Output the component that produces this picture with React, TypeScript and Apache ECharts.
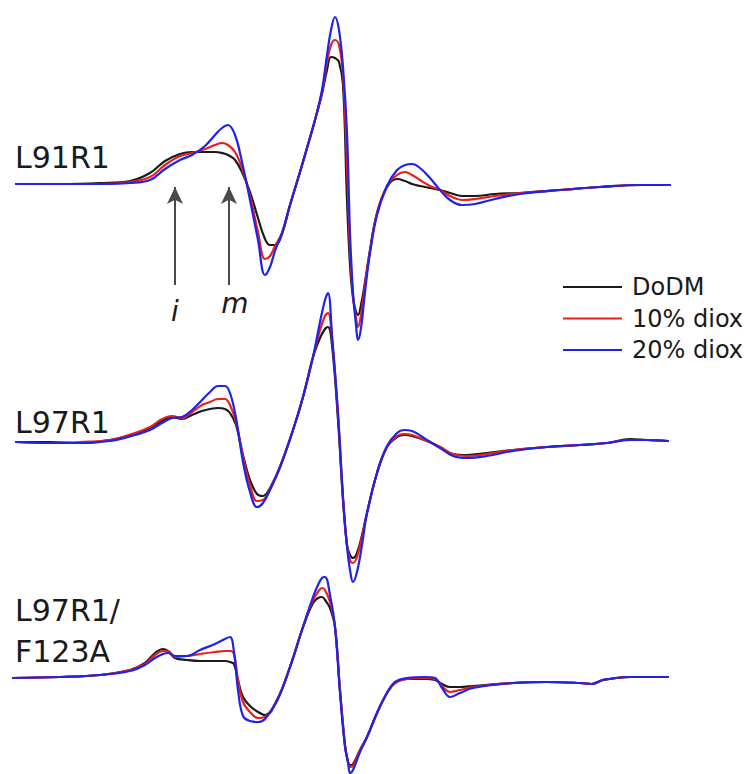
import React, { useEffect, useRef } from "react";
import * as echarts from "echarts";

// ---- Data (field in G, arbitrary start; amplitude in a.u.) ----
const CONDITIONS = ["DoDM", "10% diox", "20% diox"];
const COLORS = ["#1a1a1a", "#e8201a", "#1f22ea"];
const SAMPLES = ["L91R1", "L97R1", "L97R1/F123A"];

const fieldL91R1 = [1.2, 10, 18, 24, 28, 31, 34, 36.4, 39, 41, 42.4, 43.6, 45, 46.4, 48, 49.6, 51, 52, 53, 54.4, 56, 58, 59.4, 61, 62.4, 63.4, 64.2, 65, 65.8, 66.6, 67.4, 68, 68.6, 69.2, 69.6, 70.2, 71, 72, 73.4, 75.4, 77.4, 79, 80.4, 82, 84, 86, 88, 90.4, 93, 97, 102, 110, 118, 126, 132];
const L91R1_DoDM = [0, 0, 0.5, 1.5, 5.5, 11.5, 15, 16, 16, 16, 15.5, 14.5, 12, 6, -4, -17, -27.5, -30.5, -30.5, -25, -10.5, 6, 18, 32, 45, 57, 63.5, 63, 61, 49.5, -8, -40.5, -57, -64, -65.5, -60.5, -49, -33, -14.5, -1.5, 2.5, 1.5, 0, -1, -2, -3, -4.5, -6, -6, -5, -4.5, -3, -1.5, -0.5, -0.5];
const L91R1_diox10 = [0, 0, 0, 1, 3.5, 9.5, 14, 15.5, 17.5, 19.5, 20.5, 19.5, 16, 8, -6, -24, -37.5, -36, -31, -24.5, -10.5, 6, 18, 32, 46, 61, 69.5, 72, 69.5, 54.5, 9.5, -33, -55.5, -67, -71.5, -65.5, -50.5, -33.5, -14.5, -1, 4.5, 6, 4.5, 2, -1, -3, -6, -8, -7.5, -6, -4.5, -3, -1.5, -0.5, -0.5];
const L91R1_diox20 = [0, 0, 0, 0.5, 2, 7.5, 12, 14.5, 19, 24.5, 28, 29.5, 24.5, 11, -8, -28, -45.5, -41.5, -33.5, -24.5, -10.5, 6, 18, 32, 47, 64.5, 77, 83.5, 77, 58.5, 25.5, -24.5, -54.5, -70.5, -78, -72, -54, -34.5, -15.5, -1, 7, 9.5, 10, 8, 3, -3, -8, -10.5, -10, -7.5, -5, -3, -1.5, -0.5, -0.5];

const fieldL97R1 = [1.2, 8, 14, 20, 25, 28, 30.4, 32.4, 34.4, 36.4, 38.4, 40, 41.6, 43, 44, 45.2, 46.6, 48, 49.4, 50.6, 52, 54, 56.6, 58.6, 60.6, 62, 63, 63.6, 64.4, 65.6, 66.6, 67.4, 68, 68.6, 69.4, 70.4, 71.4, 73.4, 75.4, 77.4, 78.8, 80.4, 83.4, 86, 88.6, 91.4, 95.4, 100.6, 107.4, 114, 119.4, 124, 127.4, 131.6];
const L97R1_DoDM = [0, 0, -0.5, 1, 4, 7, 10.5, 12.5, 11.5, 13.5, 15.5, 16.5, 17, 16.5, 14.5, 8.5, -6.5, -19, -26, -27, -23, -12.5, 6, 22.5, 42.5, 52, 56.5, 57.5, 48.5, 11, -29, -51.5, -56.5, -58, -55.5, -46.5, -35.5, -15.5, -2.5, 2.5, 3.5, 3, 0.5, -2.5, -6, -6.5, -5.5, -4, -2.5, -1.5, -0.5, 1.5, 1, 0.5];
const L97R1_diox10 = [0, -0.5, 0, 1, 4.5, 7.5, 11.5, 13, 12, 15, 18.5, 20, 21.5, 21.5, 18.5, 10, -7.5, -21.5, -29.5, -29, -23.5, -12.5, 6, 22.5, 42.5, 56, 63, 64.5, 52, 13.5, -28, -51.5, -59, -60.5, -57.5, -47.5, -35.5, -15.5, -2.5, 3, 4, 3.5, 0.5, -2.5, -6, -7, -6, -4, -2.5, -1.5, -0.5, 1, 1, 0.5];
const L97R1_diox20 = [0, -0.5, -0.5, 0.5, 3.5, 6, 9.5, 12, 12.5, 16, 21, 25, 28, 28, 24.5, 12, -10, -25, -32.5, -30.5, -24, -12.5, 6, 22.5, 42.5, 60, 71, 74.5, 53.5, 14.5, -27.5, -52.5, -64, -70, -65, -51.5, -35.5, -15.5, -2, 4.5, 6, 5.5, 1, -3, -7, -8, -7, -4.5, -2.5, -1.5, -0.5, 1, 1, 0.5];

const fieldF123A = [0.6, 10, 18, 24, 27, 29, 30.6, 31.6, 33, 35.4, 38, 41, 43, 44, 44.8, 45.6, 46.6, 48, 49.6, 51, 53.4, 56, 58.6, 60.6, 61.6, 62.4, 63, 64, 65, 66, 67, 67.6, 68, 68.6, 70, 71.4, 73.4, 75.4, 77, 79.4, 83, 85, 86.4, 88, 90, 92.6, 100.6, 107.4, 114, 116.4, 118.6, 124, 131.6];
const F123A_DoDM = [0, 0.5, 1.5, 4, 7.5, 12.5, 14.5, 13.5, 10, 9, 8.5, 8.5, 8.5, 8, 7, -1, -9.5, -14, -17, -18.5, -11, 5.5, 25.5, 37.5, 40, 40.5, 39, 35, 25.5, -6, -33.5, -42, -43.5, -43, -36, -29.5, -17.5, -7.5, -2.5, -0.5, -0.5, -1, -3, -4.5, -4.5, -4, -2.5, -2, -2.5, -3, -1, 0.5, 0.5];
const F123A_diox10 = [0, 0.5, 1.5, 4, 7, 11.5, 13.5, 13.5, 10.5, 11, 12, 13, 13.5, 13.5, 12, -1, -12, -17, -20, -19.5, -11, 5.5, 25.5, 39, 43, 45, 44, 38, 25.5, -6, -33.5, -42, -44.5, -44, -36, -29.5, -17.5, -7.5, -2.5, -0.5, 0, -0.5, -4, -7, -6, -4.5, -2.5, -2, -2.5, -3, -1, 0.5, 0.5];
const F123A_diox20 = [0, 0.5, 1.5, 3.5, 6.5, 10, 12, 12.5, 11, 11, 14, 17, 19.5, 20.5, 13, -6, -19, -21.5, -22, -20.5, -11.5, 5.5, 25.5, 40.5, 46.5, 50, 50.5, 41.5, 25.5, -7.5, -34.5, -42, -47.5, -46, -37, -29.5, -17.5, -7.5, -2, 0, 0.5, 0, -5, -9.5, -7.5, -5, -2.5, -2, -2.5, -3, -1, 0.5, 0.5];

// annotation arrows (field positions of the i and m components)
const ARROW_FIELDS = [33, 43.8];
const ARROW_LABELS = ["i", "m"];

// ---- Layout ----
const W = 747;
const H = 774;
const PANEL_OFFSETS = [295, 166, 48];
const FONT = '"DejaVu Sans", "Liberation Sans", Arial, sans-serif';

export default function App() {
  const ref = useRef<HTMLDivElement>(null);

  useEffect(() => {
    if (!ref.current) return;
    const chart = echarts.init(ref.current, undefined, { renderer: "svg" });

    const panels = [
      { field: fieldL91R1, traces: [L91R1_DoDM, L91R1_diox10, L91R1_diox20] },
      { field: fieldL97R1, traces: [L97R1_DoDM, L97R1_diox10, L97R1_diox20] },
      { field: fieldF123A, traces: [F123A_DoDM, F123A_diox10, F123A_diox20] },
    ];

    const series: any[] = [];
    panels.forEach((p, pi) => {
      p.traces.forEach((amp, ci) => {
        const s: any = {
          type: "line",
          name: CONDITIONS[ci],
          data: p.field.map((f, i) => [f, amp[i] + PANEL_OFFSETS[pi]]),
          symbol: "none",
          smooth: 0.4,
          lineStyle: { color: COLORS[ci], width: 2.2, cap: "round", join: "round" },
          itemStyle: { color: COLORS[ci] },
          emphasis: { disabled: true },
          silent: true,
          clip: false,
          z: 2 + ci,
        };
        if (pi === 0 && ci === 0) {
          s.markLine = {
            silent: true,
            symbol: ["none", "arrow"],
            symbolSize: [12, 17],
            label: { show: false },
            emphasis: { disabled: true },
            lineStyle: { color: "#4a4a4a", width: 2, type: "solid" },
            data: ARROW_FIELDS.map((f) => [
              { coord: [f, PANEL_OFFSETS[0] - 50.5] },
              { coord: [f, PANEL_OFFSETS[0] - 1.5] },
            ]),
          };
        }
        series.push(s);
      });
    });

    const labelStyle = (text: string, x: number, y: number) => ({
      type: "text",
      x,
      y,
      silent: true,
      style: {
        text,
        fontFamily: FONT,
        fontSize: 30,
        fill: "#1a1a1a",
        align: "left",
        verticalAlign: "middle",
      },
    });

    const option: any = {
      animation: false,
      backgroundColor: "#ffffff",
      grid: { left: 10, right: 77, top: 0, bottom: 0, containLabel: false },
      xAxis: { type: "value", min: 0, max: 132, show: false },
      yAxis: { type: "value", min: 0, max: 387, show: false },
      legend: {
        data: CONDITIONS,
        orient: "vertical",
        left: 563,
        top: 272,
        padding: 0,
        itemWidth: 59,
        itemHeight: 14,
        itemGap: 1.5,
        selectedMode: false,
        icon: "path://M0,6 L59,6 L59,8 L0,8 Z",
        textStyle: {
          fontFamily: FONT,
          fontSize: 24,
          color: "#1a1a1a",
          lineHeight: 30,
          padding: [0, 0, 0, 5],
        },
      },
      series,
      graphic: [
        labelStyle(SAMPLES[0], 15, 157),
        labelStyle(SAMPLES[1], 15, 422),
        labelStyle("L97R1/", 15, 610.5),
        labelStyle("F123A", 15, 651),
        {
          type: "text",
          x: 175,
          y: 311.5,
          silent: true,
          style: {
            text: ARROW_LABELS[0],
            fontFamily: FONT,
            fontSize: 28,
            fontStyle: "italic",
            fill: "#1a1a1a",
            align: "center",
            verticalAlign: "middle",
          },
        },
        {
          type: "text",
          x: 235,
          y: 303.5,
          silent: true,
          style: {
            text: ARROW_LABELS[1],
            fontFamily: FONT,
            fontSize: 28,
            fontStyle: "italic",
            fill: "#1a1a1a",
            align: "center",
            verticalAlign: "middle",
          },
        },
      ],
    };

    chart.setOption(option);
    return () => chart.dispose();
  }, []);

  return (
    <div
      ref={ref}
      style={{ position: "fixed", left: 0, top: 0, width: W, height: H, background: "#fff" }}
    />
  );
}
